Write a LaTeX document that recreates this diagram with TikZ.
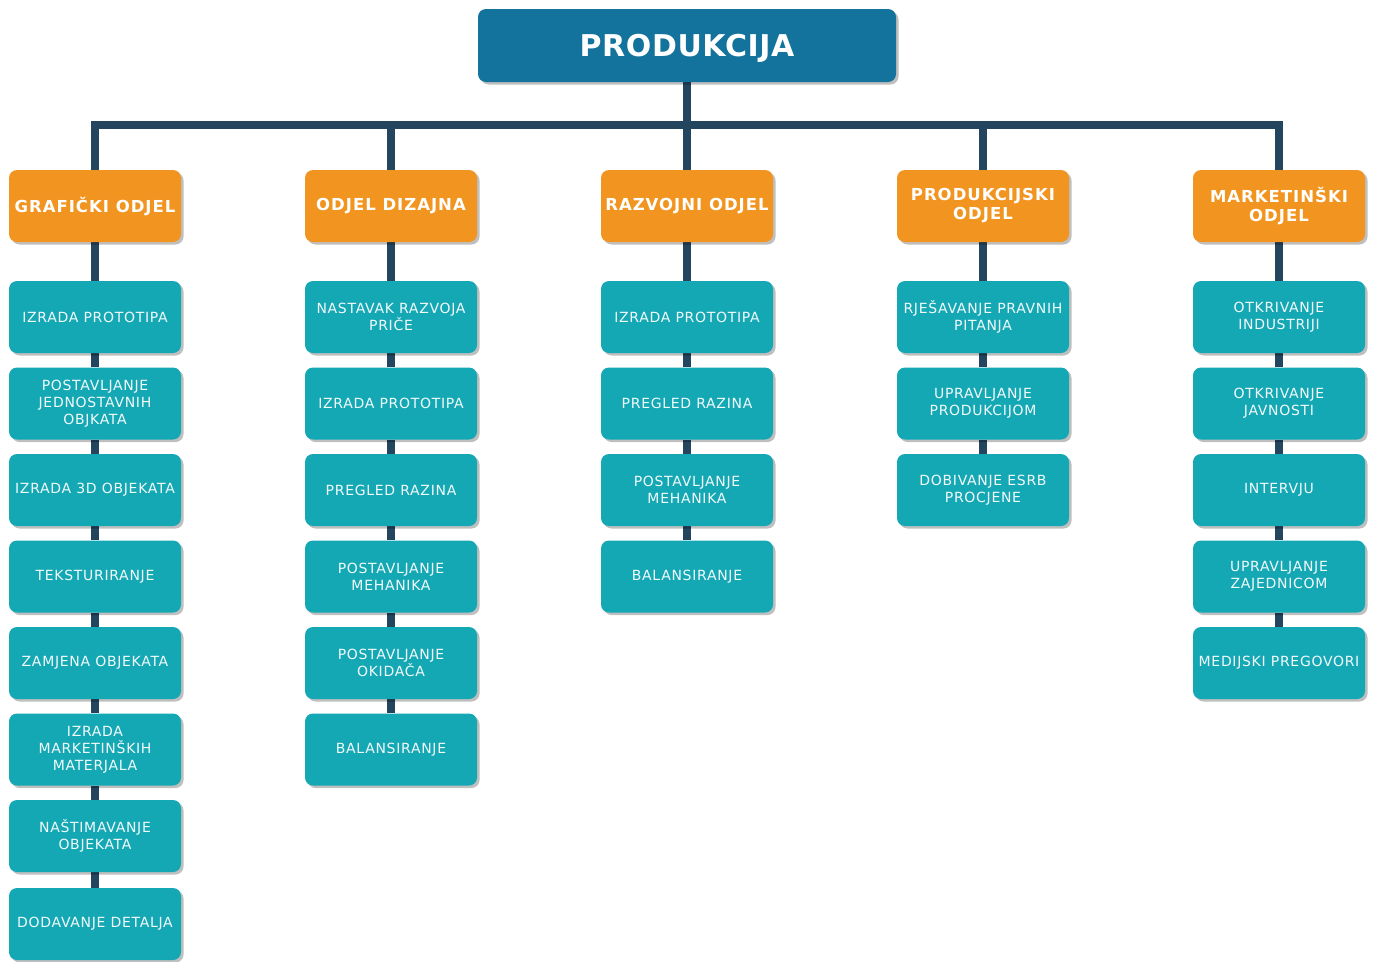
\documentclass[tikz,border=0pt]{standalone}
\usepackage{fontspec}
\setmainfont{DejaVu Sans}
\usetikzlibrary{shadows,backgrounds}
\definecolor{topblue}{HTML}{13739C}
\definecolor{hdrorange}{HTML}{F29520}
\definecolor{itemteal}{HTML}{14A8B5}
\definecolor{linkdark}{HTML}{24455E}
\definecolor{txtlight}{HTML}{F2FAFB}
\tikzset{
  basebox/.style={rounded corners=8pt, minimum width=172pt, minimum height=72pt, align=center, inner sep=1pt,
    drop shadow={shadow xshift=2.5pt, shadow yshift=-2.5pt, fill=black, opacity=0.25}},
  topbox/.style={basebox, fill=topblue, minimum width=418pt, minimum height=73pt, text=white,
    text depth=0pt, font=\fontsize{30}{33}\selectfont\bfseries\addfontfeatures{LetterSpace=2}},
  hdrbox/.style={basebox, fill=hdrorange, text=white,
    font=\fontsize{16.5}{19}\selectfont\bfseries\addfontfeatures{LetterSpace=6}},
  itembox/.style={basebox, fill=itemteal, text=txtlight,
    font=\fontsize{14}{17}\selectfont\addfontfeatures{LetterSpace=5}},
  link/.style={draw=linkdark, line width=8pt, line join=miter}
}
\begin{document}
\begin{tikzpicture}[x=1pt,y=-1pt]
\useasboundingbox (0,0) rectangle (1373,961);
\node[topbox] (top) at (687,45.5) {PRODUKCIJA};
\coordinate (bar) at (687,125);
% headers
\node[hdrbox] (h1) at (95,206) {GRAFIČKI ODJEL};
\node[hdrbox] (h2) at (391,206) {ODJEL DIZAJNA};
\node[hdrbox] (h3) at (687,206) {RAZVOJNI ODJEL};
\node[hdrbox] (h4) at (983,206) {PRODUKCIJSKI\\ODJEL};
\node[hdrbox] (h5) at (1279,206) {MARKETINŠKI\\ODJEL};
% column 1
\node[itembox] (a1) at (95,317) {IZRADA PROTOTIPA};
\node[itembox] (a2) at (95,403.5) {POSTAVLJANJE\\JEDNOSTAVNIH\\OBJKATA};
\node[itembox] (a3) at (95,490) {IZRADA 3D OBJEKATA};
\node[itembox] (a4) at (95,576.5) {TEKSTURIRANJE};
\node[itembox] (a5) at (95,663) {ZAMJENA OBJEKATA};
\node[itembox] (a6) at (95,749.5) {IZRADA\\MARKETINŠKIH\\MATERJALA};
\node[itembox] (a7) at (95,836) {NAŠTIMAVANJE\\OBJEKATA};
\node[itembox] (a8) at (95,924) {DODAVANJE DETALJA};
% column 2
\node[itembox] (b1) at (391,317) {NASTAVAK RAZVOJA\\PRIČE};
\node[itembox] (b2) at (391,403.5) {IZRADA PROTOTIPA};
\node[itembox] (b3) at (391,490) {PREGLED RAZINA};
\node[itembox] (b4) at (391,576.5) {POSTAVLJANJE\\MEHANIKA};
\node[itembox] (b5) at (391,663) {POSTAVLJANJE\\OKIDAČA};
\node[itembox] (b6) at (391,749.5) {BALANSIRANJE};
% column 3
\node[itembox] (c1) at (687,317) {IZRADA PROTOTIPA};
\node[itembox] (c2) at (687,403.5) {PREGLED RAZINA};
\node[itembox] (c3) at (687,490) {POSTAVLJANJE\\MEHANIKA};
\node[itembox] (c4) at (687,576.5) {BALANSIRANJE};
% column 4
\node[itembox] (d1) at (983,317) {RJEŠAVANJE PRAVNIH\\PITANJA};
\node[itembox] (d2) at (983,403.5) {UPRAVLJANJE\\PRODUKCIJOM};
\node[itembox] (d3) at (983,490) {DOBIVANJE ESRB\\PROCJENE};
% column 5
\node[itembox] (e1) at (1279,317) {OTKRIVANJE\\INDUSTRIJI};
\node[itembox] (e2) at (1279,403.5) {OTKRIVANJE\\JAVNOSTI};
\node[itembox] (e3) at (1279,490) {INTERVJU};
\node[itembox] (e4) at (1279,576.5) {UPRAVLJANJE\\ZAJEDNICOM};
\node[itembox] (e5) at (1279,663) {MEDIJSKI PREGOVORI};
\begin{scope}[on background layer]
\path[link] (top.south) -- (bar);
\path[link] (h1.north) -- (h1.north |- bar) -- (h5.north |- bar) -- (h5.north);
\foreach \h in {h2,h3,h4} \path[link] (\h.north) -- (\h.north |- bar);
\foreach \u/\v in {h1/a1,a1/a2,a2/a3,a3/a4,a4/a5,a5/a6,a6/a7,a7/a8,
  h2/b1,b1/b2,b2/b3,b3/b4,b4/b5,b5/b6,
  h3/c1,c1/c2,c2/c3,c3/c4,
  h4/d1,d1/d2,d2/d3,
  h5/e1,e1/e2,e2/e3,e3/e4,e4/e5}
  \path[link] (\u.south) -- (\v.north);
\end{scope}
\end{tikzpicture}
\end{document}
